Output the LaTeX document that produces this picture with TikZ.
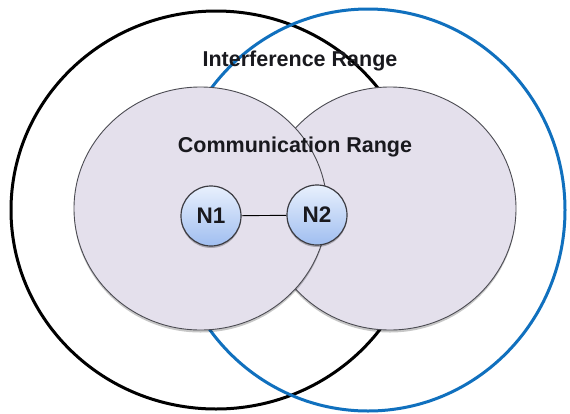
\documentclass[tikz,border=0pt]{standalone}
\usepackage{fontspec}
\setmainfont{Liberation Sans}
\usetikzlibrary{shapes.geometric,shadows}
\definecolor{rangefill}{RGB}{228,224,236}
\definecolor{rangeedge}{RGB}{75,75,82}
\definecolor{intblue}{RGB}{16,112,190}
\definecolor{nodetop}{RGB}{232,240,253}
\definecolor{nodebot}{RGB}{160,190,240}
\definecolor{nodeedge}{RGB}{60,60,66}
\definecolor{textdark}{RGB}{25,25,30}
\tikzset{
  intfring/.style={ellipse, inner sep=0pt, outer sep=0pt, line width=3pt, fill=none},
  commring/.style={ellipse, inner sep=0pt, outer sep=0pt, draw=rangeedge, line width=0.9pt, fill=rangefill,
     drop shadow={shadow xshift=0pt, shadow yshift=-2.5pt, opacity=0.22, fill=black}},
  netnode/.style={circle, inner sep=0pt, minimum size=60pt, draw=nodeedge, line width=1.2pt,
     top color=nodetop, bottom color=nodebot, text=textdark,
     font=\fontsize{22.5}{24}\selectfont\bfseries,
     drop shadow={shadow xshift=0pt, shadow yshift=-2pt, opacity=0.25, fill=black}},
  rangelabel/.style={inner sep=0pt, text=textdark, font=\fontsize{21.5}{24}\selectfont\bfseries},
  link/.style={draw=black, line width=0.9pt}
}
\begin{document}
\begin{tikzpicture}[x=1pt,y=-1pt]
\useasboundingbox[fill=white] (0,0) rectangle (570,413);
% interference ranges
\node[intfring, draw=black, minimum width=410pt, minimum height=398pt] (intA) at (216,210) {};
\node[intfring, draw=intblue, minimum width=394pt, minimum height=402pt] (intB) at (368,210) {};
% communication ranges
\node[commring, minimum width=252pt, minimum height=243pt] (commR) at (390,208.5) {};
\node[commring, minimum width=253pt, minimum height=243pt] (commL) at (200.5,208.5) {};
% nodes
\node[netnode] (n1) at (211,216) {N1};
\node[netnode] (n2) at (317,215) {N2};
\draw[link] (n1) -- (n2);
% labels
\node[rangelabel] (intlabel) at (300,61) {Interference Range};
\node[rangelabel] (commlabel) at (295,147) {Communication Range};
\end{tikzpicture}
\end{document}
